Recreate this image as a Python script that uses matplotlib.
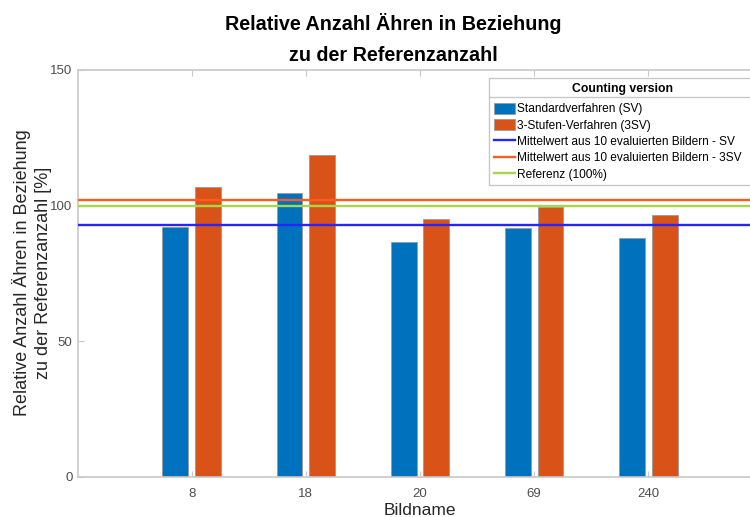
import numpy as np
import matplotlib.pyplot as plt
from matplotlib.lines import Line2D

plt.rcParams['font.family'] = ['Liberation Sans', 'DejaVu Sans']

# Daten
bildname = ['8', '18', '20', '69', '240']
sv_werte = [92.2, 104.8, 86.5, 91.7, 88.2]
dsv_werte = [106.7, 118.6, 95.2, 99.5, 96.5]
mittel_sv = 92.8
mittel_3sv = 102.1
referenz = 100.0

farbe_sv = '#0072BD'
farbe_3sv = '#D95319'
grau = '#4d4d4d'

W, H = 750, 517
fig = plt.figure(figsize=(W / 100, H / 100), dpi=100)
ax = fig.add_axes([77.5 / W, 1 - 476.7 / H, 685 / W, 406.7 / H])

x = np.arange(1, len(bildname) + 1)
breite = 0.226
versatz = 0.143

b1 = ax.bar(x - versatz, sv_werte, breite, color=farbe_sv, edgecolor='#9a9a9a',
            linewidth=0.6, label='Standardverfahren (SV)', zorder=2)
b2 = ax.bar(x + versatz, dsv_werte, breite, color=farbe_3sv, edgecolor='#9a9a9a',
            linewidth=0.6, label='3-Stufen-Verfahren (3SV)', zorder=2)

l1 = ax.axhline(mittel_sv, color='#2525ff', linewidth=1.7, zorder=3,
                label='Mittelwert aus 10 evaluierten Bildern - SV')
l2 = ax.axhline(mittel_3sv, color='#ff5a1f', linewidth=1.7, zorder=3,
                label='Mittelwert aus 10 evaluierten Bildern - 3SV')
l3 = ax.axhline(referenz, color='#a6d84a', linewidth=1.7, zorder=3,
                label='Referenz (100%)')

ax.set_xlim(0, 6)
ax.set_ylim(0, 150)
ax.set_xticks(x)
ax.set_xticklabels(bildname)
ax.set_yticks([0, 50, 100, 150])

for s in ax.spines.values():
    s.set_color('#c8c8c8')
    s.set_linewidth(1.2)
ax.tick_params(direction='in', length=4, color='#c8c8c8', labelcolor=grau,
               labelsize=9.5, top=True, right=True)
ax.tick_params(axis='x', pad=8)

ax.set_xlabel('Bildname', fontsize=12.5, color='#262626', labelpad=2)

# y-Achsenbeschriftung (zweizeilig)
fig.text(32 / W, 1 - 273 / H, 'Relative Anzahl Ähren in Beziehung\nzu der Referenzanzahl [%]',
         rotation=90, ha='center', va='center', fontsize=13, color='#262626',
         linespacing=1.3)

# Titel, zwei Zeilen
fig.text(393 / W, 1 - 30 / H, 'Relative Anzahl Ähren in Beziehung',
         ha='center', va='baseline', fontsize=14.2, fontweight='bold')
fig.text(393 / W, 1 - 61 / H, 'zu der Referenzanzahl',
         ha='center', va='baseline', fontsize=14.2, fontweight='bold')

leg = ax.legend(handles=[b1, b2, l1, l2, l3], loc='upper left',
                bbox_to_anchor=(489 / W, 1 - 78 / H, (756 - 489) / W, 0),
                bbox_transform=fig.transFigure, mode='expand', fontsize=8.55,
                title='Counting version', title_fontproperties={'weight': 'bold', 'size': 8.8},
                frameon=True, fancybox=False, edgecolor='#c8c8c8', framealpha=1,
                borderpad=0.4, labelspacing=0.33, handlelength=1.8, handleheight=1.0,
                handletextpad=0.15, borderaxespad=0)
leg.get_frame().set_linewidth(1.0)
leg.set_zorder(5)
leg._legend_box.sep = 6.0

# Trennlinie unter dem Legendentitel
fig.add_artist(Line2D([489 / W, 756 / W], [1 - 97 / H, 1 - 97 / H],
                      transform=fig.transFigure, color='#c8c8c8', linewidth=1.0, zorder=6))

fig.savefig('out.png', dpi=100)
